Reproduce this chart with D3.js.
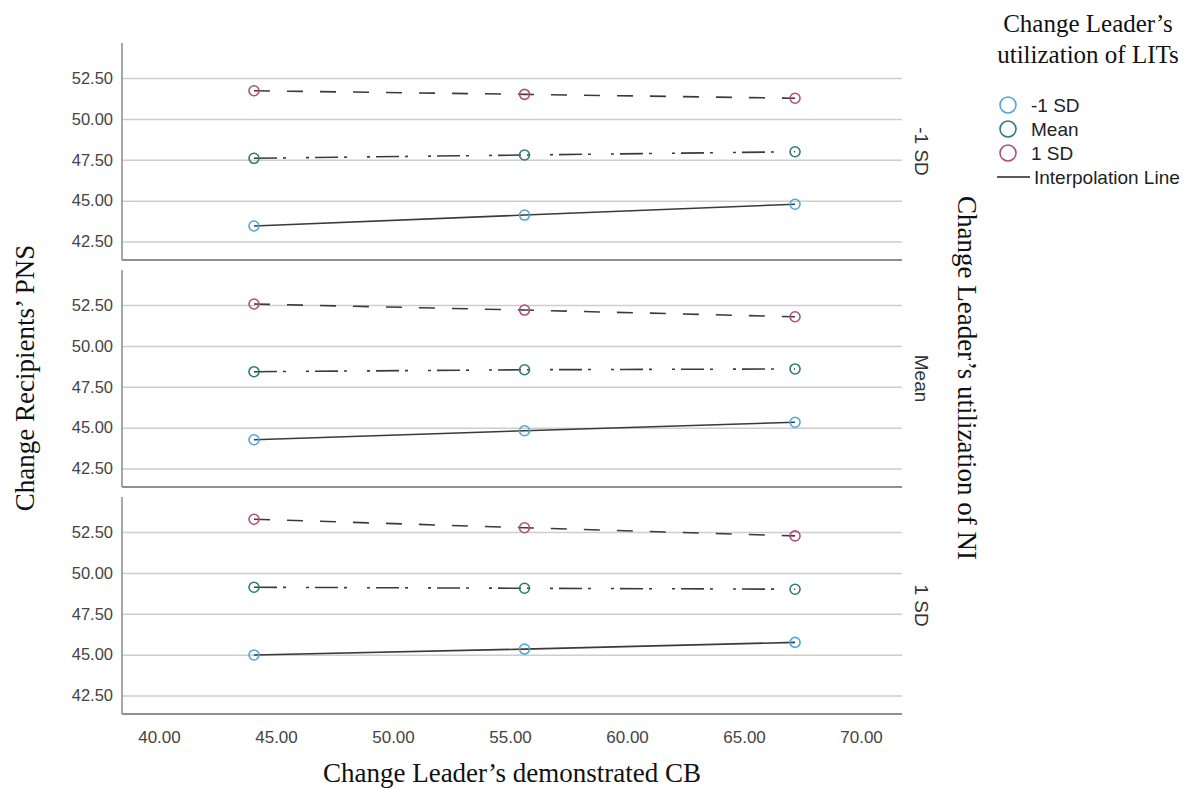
<!DOCTYPE html>
<html>
<head>
<meta charset="utf-8">
<script src="https://cdn.jsdelivr.net/npm/d3@7/dist/d3.min.js"></script>
<style>
  body { margin: 0; background: #fff; }
  .sans { font-family: "Liberation Sans", Arial, sans-serif; }
  .serif { font-family: "Liberation Serif", "Times New Roman", serif; }
</style>
</head>
<body>
<div id="chart"></div>
<script>
// change leader's demonstrated CB (x positions of the three points)
const cbValues = [44.06, 55.62, 67.18];
const xTicks = [40, 45, 50, 55, 60, 65, 70];
const yTicks = [42.5, 45, 47.5, 50, 52.5];

// panels: change leader's utilization of NI
const niLevels = ["-1 SD", "Mean", "1 SD"];
// series: change leader's utilization of LITs
const litLevels = ["-1 SD", "Mean", "1 SD"];
const litColors = ["#4fa8d8", "#2f7d6c", "#b05078"];
const litDash = [null, "23,6,3,20,3,6", "16,17"];

// PNS values, one row per LIT level, for each NI panel
const pnsLowNI = [
  [43.45, 44.12, 44.78],
  [47.59, 47.79, 47.99],
  [51.72, 51.5, 51.26],
];
const pnsMeanNI = [
  [44.26, 44.81, 45.33],
  [48.42, 48.54, 48.59],
  [52.56, 52.19, 51.78],
];
const pnsHighNI = [
  [44.98, 45.34, 45.75],
  [49.12, 49.06, 49.0],
  [53.28, 52.76, 52.26],
];
const panelData = [pnsLowNI, pnsMeanNI, pnsHighNI];

const width = 1191,
  height = 789;
const left = 122,
  right = 902;
const panelTop = [43, 270, 497],
  panelH = 217;

const svg = d3
  .select("#chart")
  .append("svg")
  .attr("width", width)
  .attr("height", height);

const xScale = d3.scaleLinear().domain([38.42, 71.75]).range([left, right]);
const yScale = d3.scaleLinear().domain([41.37, 54.64]).range([panelH, 0]);

const line = d3
  .line()
  .x((d, i) => xScale(cbValues[i]))
  .y((d) => yScale(d));

panelData.forEach((rows, p) => {
  const g = svg.append("g").attr("transform", `translate(0,${panelTop[p]})`);

  // gridlines + y tick labels
  const ax = g
    .append("g")
    .attr("class", "sans")
    .attr("transform", `translate(${left},0)`)
    .call(
      d3
        .axisLeft(yScale)
        .tickValues(yTicks)
        .tickSize(-(right - left))
        .tickPadding(9)
        .tickFormat(d3.format(".2f"))
    );
  ax.select(".domain").remove();
  ax.selectAll(".tick line").attr("stroke", "#cdcdcd").attr("stroke-width", 1.5);
  ax.selectAll(".tick text")
    .attr("fill", "#444")
    .style("font-size", "16.5px")
    .style("font-family", '"Liberation Sans", Arial, sans-serif');

  // frame: left axis and bottom border
  g.append("line")
    .attr("x1", left).attr("x2", left)
    .attr("y1", 0).attr("y2", panelH)
    .attr("stroke", "#8a8a8a").attr("stroke-width", 1.5);
  g.append("line")
    .attr("x1", left).attr("x2", right)
    .attr("y1", panelH).attr("y2", panelH)
    .attr("stroke", "#8f8f8f").attr("stroke-width", 2);

  rows.forEach((vals, s) => {
    g.append("path")
      .datum(vals)
      .attr("fill", "none")
      .attr("stroke", "#3a3a3a")
      .attr("stroke-width", 1.6)
      .attr("stroke-dasharray", litDash[s])
      .attr("d", line);

    g.selectAll(".pt" + s)
      .data(vals)
      .join("circle")
      .attr("class", "pt" + s)
      .attr("cx", (d, i) => xScale(cbValues[i]))
      .attr("cy", (d) => yScale(d))
      .attr("r", 5)
      .attr("fill", "none")
      .attr("stroke", litColors[s])
      .attr("stroke-width", 1.6);
  });

  // strip label
  g.append("text")
    .attr("class", "sans")
    .attr("transform", `translate(921,${panelH / 2}) rotate(90)`)
    .attr("text-anchor", "middle")
    .attr("dominant-baseline", "central")
    .attr("fill", "#333")
    .style("font-size", "19px")
    .text(niLevels[p]);
});

// x axis labels
const xa = svg
  .append("g")
  .attr("transform", `translate(0,${panelTop[2] + panelH})`)
  .call(
    d3.axisBottom(xScale)
      .tickValues(xTicks)
      .tickSize(0)
      .tickPadding(17)
      .tickFormat(d3.format(".2f"))
  );
xa.select(".domain").remove();
xa.selectAll(".tick text")
  .attr("fill", "#444")
  .style("font-size", "17px")
  .style("font-family", '"Liberation Sans", Arial, sans-serif');

// axis titles
svg.append("text")
  .attr("class", "serif")
  .attr("x", 512)
  .attr("y", 782)
  .attr("text-anchor", "middle")
  .attr("fill", "#111")
  .style("font-size", "27px")
  .text("Change Leader’s demonstrated CB");

svg.append("text")
  .attr("class", "serif")
  .attr("transform", "translate(34,378) rotate(-90)")
  .attr("text-anchor", "middle")
  .attr("fill", "#111")
  .style("font-size", "27px")
  .text("Change Recipients’ PNS");

svg.append("text")
  .attr("class", "serif")
  .attr("transform", "translate(958,378) rotate(90)")
  .attr("text-anchor", "middle")
  .attr("fill", "#111")
  .style("font-size", "27px")
  .text("Change Leader’s utilization of NI");

// legend
const legend = svg.append("g");
legend.selectAll(".ltitle")
  .data(["Change Leader’s", "utilization of LITs"])
  .join("text")
  .attr("class", "serif ltitle")
  .attr("x", 1088)
  .attr("y", (d, i) => 32 + i * 31)
  .attr("text-anchor", "middle")
  .attr("fill", "#111")
  .style("font-size", "25px")
  .text((d) => d);

const items = legend.selectAll(".litem")
  .data(litLevels)
  .join("g")
  .attr("class", "litem")
  .attr("transform", (d, i) => `translate(0,${105 + i * 24})`);
items.append("circle")
  .attr("cx", 1008)
  .attr("r", 8)
  .attr("fill", "none")
  .attr("stroke", (d, i) => litColors[i])
  .attr("stroke-width", 1.6);
items.append("text")
  .attr("class", "sans")
  .attr("x", 1031)
  .attr("dy", "0.35em")
  .attr("fill", "#222")
  .style("font-size", "19px")
  .text((d) => d);

legend.append("line")
  .attr("x1", 997).attr("x2", 1030)
  .attr("y1", 177).attr("y2", 177)
  .attr("stroke", "#222").attr("stroke-width", 1.5);
legend.append("text")
  .attr("class", "sans")
  .attr("x", 1034)
  .attr("y", 177)
  .attr("dy", "0.35em")
  .attr("fill", "#222")
  .style("font-size", "19px")
  .text("Interpolation Line");
</script>
</body>
</html>
